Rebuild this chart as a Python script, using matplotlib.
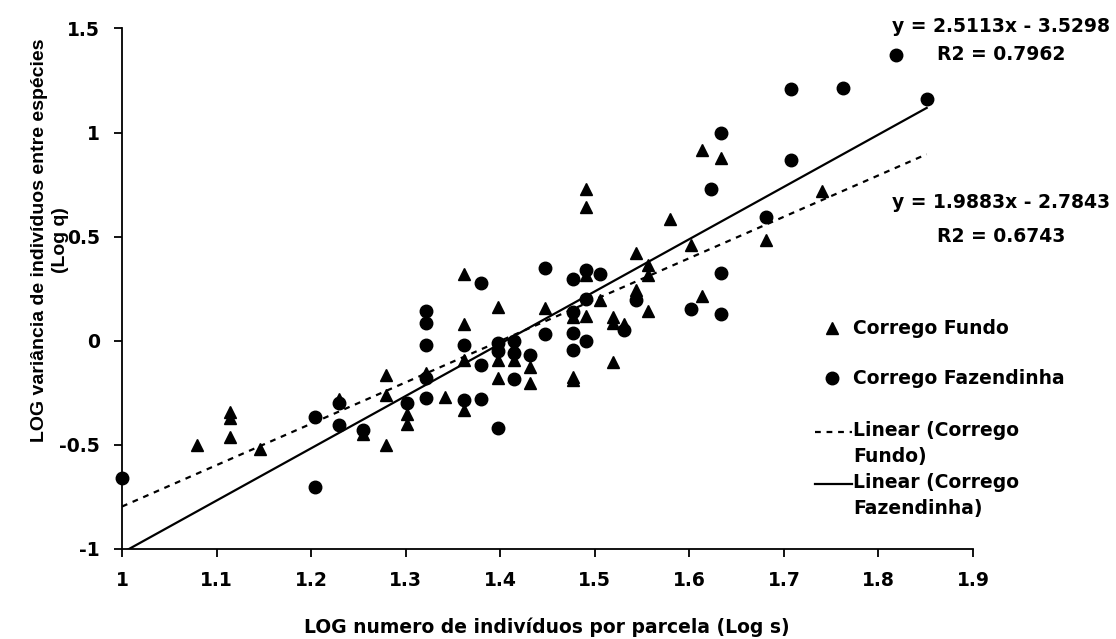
import matplotlib
matplotlib.use("Agg")
import matplotlib.pyplot as plt
from matplotlib.lines import Line2D

W, H = 1116, 639

# Corrego Fundo (triangles)
fundo_x = [1.079, 1.114, 1.114, 1.114, 1.146, 1.230, 1.255, 1.279, 1.279, 1.279,
           1.301, 1.301, 1.322, 1.342, 1.362, 1.362, 1.362, 1.362, 1.398, 1.398,
           1.398, 1.415, 1.415, 1.431, 1.431, 1.447, 1.477, 1.477, 1.477, 1.491,
           1.491, 1.491, 1.491, 1.505, 1.519, 1.519, 1.519, 1.531, 1.544, 1.544,
           1.556, 1.556, 1.556, 1.580, 1.602, 1.613, 1.613, 1.633, 1.681, 1.740]
fundo_y = [-0.50, -0.34, -0.37, -0.46, -0.52, -0.28, -0.45, -0.165, -0.26, -0.50,
           -0.35, -0.40, -0.157, -0.27, 0.32, 0.08, -0.09, -0.33, 0.16, -0.09,
           -0.18, -0.03, -0.09, -0.125, -0.205, 0.156, 0.115, -0.173, -0.19, 0.73,
           0.643, 0.315, 0.119, 0.195, 0.115, 0.084, -0.10, 0.08, 0.42, 0.243,
           0.363, 0.315, 0.143, 0.583, 0.459, 0.915, 0.215, 0.880, 0.483, 0.720]

# Corrego Fazendinha (circles)
faz_x = [1.000, 1.204, 1.204, 1.230, 1.230, 1.255, 1.301, 1.322, 1.322, 1.322,
         1.322, 1.322, 1.362, 1.362, 1.380, 1.380, 1.380, 1.398, 1.398, 1.398,
         1.415, 1.415, 1.415, 1.431, 1.447, 1.447, 1.477, 1.477, 1.477, 1.477,
         1.491, 1.491, 1.491, 1.505, 1.531, 1.544, 1.602, 1.623, 1.633, 1.633,
         1.633, 1.681, 1.708, 1.708, 1.763, 1.819, 1.851]
faz_y = [-0.66, -0.365, -0.70, -0.30, -0.405, -0.43, -0.30, 0.143, 0.084, -0.02,
         -0.18, -0.277, -0.02, -0.283, 0.276, -0.117, -0.28, -0.01, -0.05, -0.42,
         0.00, -0.06, -0.185, -0.069, 0.350, 0.031, 0.296, 0.139, 0.038, -0.045,
         0.339, 0.203, 0.00, 0.319, 0.051, 0.195, 0.151, 0.727, 1.00, 0.328,
         0.131, 0.595, 1.208, 0.868, 1.212, 1.375, 1.16]

# linear trendlines (slope, intercept)
fundo_fit = (1.9883, -2.7843)
faz_fit = (2.5113, -3.5298)
fit_x = [1.0, 1.851]

x_ticks = [1.0, 1.1, 1.2, 1.3, 1.4, 1.5, 1.6, 1.7, 1.8, 1.9]
x_tick_labels = ["1", "1.1", "1.2", "1.3", "1.4", "1.5", "1.6", "1.7", "1.8", "1.9"]
y_ticks = [-1.0, -0.5, 0.0, 0.5, 1.0, 1.5]
y_tick_labels = ["-1", "-0.5", "0", "0.5", "1", "1.5"]

BOLD = dict(family="DejaVu Sans", weight="bold", size=13.5)


def fx(px):
    return px / W


def fy(py):
    return 1 - py / H


fig = plt.figure(figsize=(W / 100, H / 100), dpi=100)
ax = fig.add_axes([fx(122), fy(549), (973 - 122) / W, (549 - 28.5) / H])

ax.plot(fundo_x, fundo_y, "^", color="black", ms=9, clip_on=False, zorder=3)
ax.plot(faz_x, faz_y, "o", color="black", ms=9, clip_on=False, zorder=3)

m, b = fundo_fit
ax.plot(fit_x, [m * v + b for v in fit_x], color="black", lw=1.6,
        linestyle=(0, (2.6, 2.6)), zorder=4)
m, b = faz_fit
ax.plot(fit_x, [m * v + b for v in fit_x], color="black", lw=1.6, zorder=4)

ax.set_xlim(1.0, 1.9)
ax.set_ylim(-1.0, 1.5)
ax.set_xticks(x_ticks, x_tick_labels, **BOLD)
ax.set_yticks(y_ticks, y_tick_labels, **BOLD)
ax.tick_params(direction="out", length=6, width=1.3)
ax.tick_params(axis="x", pad=9.5)
ax.tick_params(axis="y", pad=10)
for side in ("top", "right"):
    ax.spines[side].set_visible(False)
for side in ("left", "bottom"):
    ax.spines[side].set_linewidth(1.3)

fig.text(fx(547), fy(627), "LOG numero de indivíduos por parcela (Log s)",
         ha="center", va="center", **BOLD)
fig.text(fx(50), fy(240), "LOG variância de indivíduos entre espécies\n(Log q)",
         ha="center", va="center", rotation=90, multialignment="center",
         linespacing=1.25, family="Liberation Sans", weight="bold", size=14)

# trendline equations
fig.text(fx(1001), fy(26), "y = 2.5113x - 3.5298", ha="center", va="center", **BOLD)
fig.text(fx(1001), fy(54), "R2 = 0.7962", ha="center", va="center", **BOLD)
fig.text(fx(1001), fy(203), "y = 1.9883x - 2.7843", ha="center", va="center", **BOLD)
fig.text(fx(1001), fy(237), "R2 = 0.6743", ha="center", va="center", **BOLD)

# legend
fig.add_artist(Line2D([fx(832)], [fy(328)], marker="^", ms=9, color="black",
                      transform=fig.transFigure))
fig.text(fx(853), fy(328), "Corrego Fundo", va="center", **BOLD)
fig.add_artist(Line2D([fx(832)], [fy(378)], marker="o", ms=9, color="black",
                      transform=fig.transFigure))
fig.text(fx(853), fy(378), "Corrego Fazendinha", va="center", **BOLD)
fig.add_artist(Line2D([fx(815), fx(852)], [fy(432), fy(432)], color="black", lw=1.6,
                      linestyle=(0, (2.6, 2.6)), transform=fig.transFigure))
fig.text(fx(853), fy(421), "Linear (Corrego\nFundo)", va="top", linespacing=1.45,
         **BOLD)
fig.add_artist(Line2D([fx(815), fx(852)], [fy(484), fy(484)], color="black", lw=1.6,
                      transform=fig.transFigure))
fig.text(fx(853), fy(473), "Linear (Corrego\nFazendinha)", va="top",
         linespacing=1.45, **BOLD)

fig.savefig("out.png", dpi=100)
